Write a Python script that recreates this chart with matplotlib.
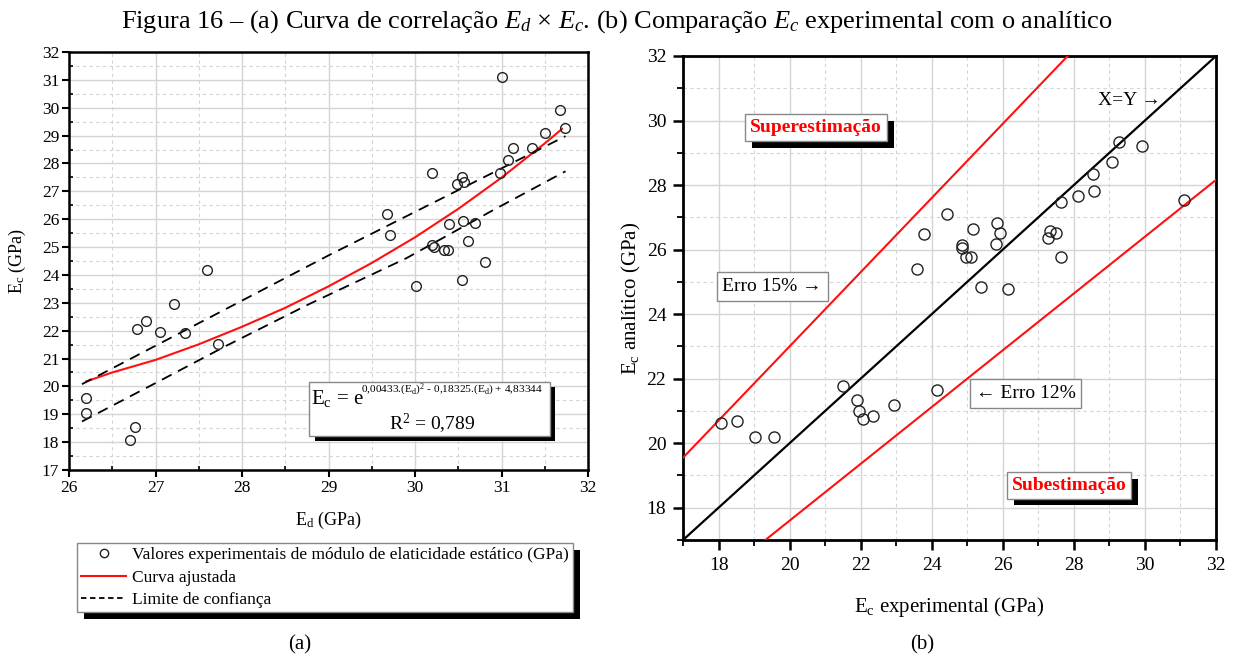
import matplotlib
matplotlib.use("Agg")
import matplotlib.pyplot as plt
from matplotlib.patches import Rectangle
from matplotlib.lines import Line2D
from matplotlib.patheffects import withSimplePatchShadow
from matplotlib.ticker import MultipleLocator

plt.rcParams['font.family'] = ['Liberation Serif', 'DejaVu Serif']
plt.rcParams['mathtext.fontset'] = 'custom'
plt.rcParams['mathtext.rm'] = 'Liberation Serif'
plt.rcParams['mathtext.it'] = 'Liberation Serif:italic'
plt.rcParams['mathtext.bf'] = 'Liberation Serif:bold'

# ---------------- data: panel (a) ----------------
ed_exp = [31.00, 31.68, 31.73, 31.50, 31.13, 31.35, 31.07, 30.98, 30.20, 30.54,
          30.49, 30.57, 29.68, 29.71, 30.39, 30.55, 30.69, 30.61, 30.20, 30.22,
          30.34, 30.38, 30.81, 27.59, 30.54, 30.01, 27.21, 26.89, 26.79, 27.05,
          27.34, 27.72, 26.20, 26.20, 26.76, 26.70]
ec_exp = [31.10, 29.91, 29.27, 29.08, 28.57, 28.55, 28.12, 27.66, 27.66, 27.50,
          27.26, 27.32, 26.18, 25.42, 25.84, 25.95, 25.88, 25.21, 25.09, 24.99,
          24.88, 24.88, 24.47, 24.16, 23.82, 23.59, 22.94, 22.33, 22.06, 21.95,
          21.92, 21.53, 19.59, 19.05, 18.54, 18.09]

fit_x = [26.2, 26.5, 27.0, 27.5, 28.0, 28.5, 29.0, 29.5, 30.0, 30.5, 31.0, 31.5, 31.7]
fit_y = [20.18, 20.50, 20.95, 21.51, 22.14, 22.82, 23.59, 24.43, 25.35, 26.37, 27.49, 28.72, 29.24]

upper_x = [26.15, 29.00, 31.74]
upper_y = [20.08, 24.70, 28.98]
lower_x = [26.15, 27.05, 27.82, 28.78, 29.90, 30.90, 31.74]
lower_y = [18.74, 20.20, 21.46, 22.96, 24.60, 26.32, 27.72]

# ---------------- data: panel (b) ----------------
ec_experimental = [29.28, 29.91, 29.06, 28.55, 28.57, 28.12, 27.64, 31.09, 24.44, 25.85,
                   25.17, 27.33, 27.51, 27.27, 23.79, 25.93, 24.84, 24.86, 25.81, 24.97,
                   25.10, 27.65, 23.59, 25.39, 26.16, 18.08, 18.51, 19.04, 19.56, 21.50,
                   21.91, 21.96, 22.06, 22.34, 22.93, 24.15]
ec_analitico = [29.32, 29.20, 28.71, 28.35, 27.83, 27.67, 27.48, 27.55, 27.09, 26.83,
                26.64, 26.57, 26.50, 26.37, 26.47, 26.51, 26.15, 26.06, 26.16, 25.78,
                25.78, 25.78, 25.41, 24.84, 24.79, 20.64, 20.70, 20.19, 20.19, 21.78,
                21.35, 21.01, 20.75, 20.84, 21.19, 21.64]
ref_x = [17, 32]
ratio_identity = 1.0
ratio_upper = 1.15
ratio_lower = 0.88

W, H = 1233, 657
fig = plt.figure(figsize=(W / 100, H / 100), dpi=100)

def shadow(off=4):
    return [withSimplePatchShadow(offset=(off, -off), shadow_rgbFace='black', alpha=1.0)]

GRID = '#d4d4d4'

# ================= panel (a) =================
ax1 = fig.add_axes([69 / W, 1 - 470 / H, (588 - 69) / W, (470 - 52) / H])
ax1.set_xlim(26, 32)
ax1.set_ylim(17, 32)
ax1.xaxis.set_major_locator(MultipleLocator(1))
ax1.xaxis.set_minor_locator(MultipleLocator(0.5))
ax1.yaxis.set_major_locator(MultipleLocator(1))
ax1.yaxis.set_minor_locator(MultipleLocator(0.5))
ax1.grid(which='major', color=GRID, lw=1.0, ls='-')
ax1.grid(which='minor', color=GRID, lw=0.8, ls=(0, (3, 3)))
ax1.set_axisbelow(True)
ax1.tick_params(which='major', direction='out', length=5, width=1.5, labelsize=12.5, pad=2)
ax1.tick_params(which='minor', direction='in', length=3, width=1.2)
for s in ax1.spines.values():
    s.set_linewidth(1.8)

ax1.plot(ed_exp, ec_exp, 'o', ms=7, mfc='none', mec='#222222', mew=1.0, zorder=4)
ax1.plot(fit_x, fit_y, '-', color='#ff1010', lw=1.5, zorder=3)
ax1.plot(upper_x, upper_y, color='black', lw=1.3, ls=(0, (6, 4)), zorder=3)
ax1.plot(lower_x, lower_y, color='black', lw=1.3, ls=(0, (6, 4)), zorder=3)

ax1.set_xlabel('E$_\\mathrm{d}$ (GPa)', fontsize=13)
ax1.set_ylabel('E$_\\mathrm{c}$ (GPa)', fontsize=13)
ax1.xaxis.set_label_coords(0.5, (470 - 510) / 418)
ax1.yaxis.set_label_coords((28 - 69) / 519, 0.5)

eq_box = Rectangle((28.78, 18.23), 2.78, 1.93, facecolor='white', edgecolor='#888888',
                   lw=1.0, zorder=5)
eq_box.set_path_effects(shadow(4))
ax1.add_patch(eq_box)
ax1.text(28.80, 19.55, 'E$_\\mathrm{c}$ = e', fontsize=15, ha='left', va='center', zorder=6)
ax1.text(29.38, 19.86,
         '0,00433.(E$_\\mathrm{d}$)$^\\mathrm{2}$ - 0,18325.(E$_\\mathrm{d}$) + 4,83344',
         fontsize=8.2, ha='left', va='center', zorder=6)
ax1.text(30.2, 18.66, r'R$^2$ = 0,789', fontsize=14, ha='center', va='center', zorder=6)

leg_handles = [
    Line2D([], [], ls='none', marker='o', ms=6, mfc='none', mec='#222222', mew=1.0),
    Line2D([], [], color='#ff1010', lw=1.5),
    Line2D([], [], color='black', lw=1.3, ls=(0, (3, 2))),
]
leg_labels = ['Valores experimentais de módulo de elaticidade estático (GPa)',
              'Curva ajustada', 'Limite de confiança']
leg = fig.legend(leg_handles, leg_labels, loc='upper left',
                 bbox_to_anchor=(77 / W, 1 - 543 / H), borderaxespad=0,
                 fontsize=12.5, frameon=True, fancybox=False, edgecolor='#888888',
                 handlelength=2.6, handletextpad=0.3, labelspacing=0.35,
                 borderpad=0.25, framealpha=1)
leg.get_frame().set_linewidth(1.0)
leg.legendPatch.set_path_effects(shadow(5))

# ================= panel (b) =================
ax2 = fig.add_axes([683 / W, 1 - 540 / H, (1216 - 683) / W, (540 - 56) / H])
ax2.set_xlim(17, 32)
ax2.set_ylim(17, 32)
ax2.xaxis.set_major_locator(MultipleLocator(2))
ax2.xaxis.set_minor_locator(MultipleLocator(1))
ax2.yaxis.set_major_locator(MultipleLocator(2))
ax2.yaxis.set_minor_locator(MultipleLocator(1))
ax2.grid(which='major', color=GRID, lw=1.0, ls='-')
ax2.grid(which='minor', color=GRID, lw=0.8, ls=(0, (3, 3)))
ax2.set_axisbelow(True)
ax2.tick_params(which='major', direction='out', length=7, width=1.8, labelsize=14, pad=5)
ax2.tick_params(which='minor', direction='out', length=4, width=1.3)
for s in ax2.spines.values():
    s.set_linewidth(2.0)

ax2.plot(ref_x, [ratio_identity * v for v in ref_x], color='black', lw=1.6, zorder=3)
ax2.plot(ref_x, [ratio_upper * v for v in ref_x], color='#ff1010', lw=1.5, zorder=3)
ax2.plot(ref_x, [ratio_lower * v for v in ref_x], color='#ff1010', lw=1.5, zorder=3)
ax2.plot(ec_experimental, ec_analitico, 'o', ms=8, mfc='none', mec='#222222',
         mew=1.0, zorder=4)

ax2.set_xlabel('E$_\\mathrm{c}$ experimental (GPa)', fontsize=15)
ax2.set_ylabel('E$_\\mathrm{c}$ analítico (GPa)', fontsize=15)
ax2.xaxis.set_label_coords(0.5, (540 - 595) / 484)
ax2.yaxis.set_label_coords((643 - 683) / 533, 0.5)

box_kw = dict(boxstyle='square,pad=0.25', facecolor='white', edgecolor='#888888', lw=1.0)
t = ax2.text(20.74, 29.79, 'Superestimação', color='#ff0000', fontweight='bold',
             fontsize=14, ha='center', va='center', bbox=box_kw, zorder=6)
t.get_bbox_patch().set_path_effects(shadow(5))
t = ax2.text(27.87, 18.70, 'Subestimação', color='#ff0000', fontweight='bold',
             fontsize=14, ha='center', va='center', bbox=box_kw, zorder=6)
t.get_bbox_patch().set_path_effects(shadow(5))
ax2.text(19.51, 24.86, 'Erro 15% →', fontsize=14, ha='center', va='center',
         bbox=dict(boxstyle='square,pad=0.3', facecolor='white', edgecolor='#888888', lw=1.0),
         zorder=6)
ax2.text(26.64, 21.54, '← Erro 12%', fontsize=14, ha='center', va='center',
         bbox=dict(boxstyle='square,pad=0.3', facecolor='white', edgecolor='#888888', lw=1.0),
         zorder=6)
ax2.text(29.57, 30.62, 'X=Y →', fontsize=14, ha='center', va='center', zorder=6)

# ================= titles =================
fig.text(0.5, 1 - 22 / H,
         'Figura 16 – (a) Curva de correlação $E_d$ × $E_c$. (b) Comparação $E_c$ experimental com o analítico',
         fontsize=19, ha='center', va='center')
fig.text(300 / W, 1 - 645 / H, '(a)', fontsize=15, ha='center', va='center')
fig.text(922 / W, 1 - 645 / H, '(b)', fontsize=15, ha='center', va='center')

fig.savefig('out.png', dpi=100)
